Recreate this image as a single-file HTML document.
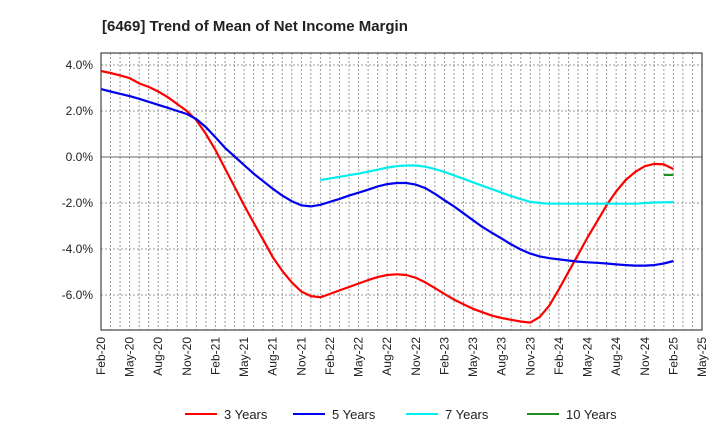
<!DOCTYPE html>
<html><head><meta charset="utf-8"><style>
body{margin:0;background:#fff;font-family:"Liberation Sans",sans-serif}
</style></head><body>
<svg id="c" width="720" height="440" xmlns="http://www.w3.org/2000/svg" style="font-family:'Liberation Sans',sans-serif">
<text x="102" y="31" font-size="15" font-weight="bold" fill="#222">[6469]  Trend of Mean of Net Income Margin</text>
<g id="grid"></g><g id="series"></g><g id="axes"></g><g id="legend"></g>
</svg>
<script>
const xTickLabels=["Feb-20","May-20","Aug-20","Nov-20","Feb-21","May-21","Aug-21","Nov-21","Feb-22","May-22","Aug-22","Nov-22","Feb-23","May-23","Aug-23","Nov-23","Feb-24","May-24","Aug-24","Nov-24","Feb-25","May-25"];
const yTicks=[4,2,0,-2,-4,-6];
const yTickLabels=["4.0%","2.0%","0.0%","-2.0%","-4.0%","-6.0%"];
const seriesNames=["3 Years","5 Years","7 Years","10 Years"];
const seriesColors=["#ff0000","#0000ee","#00eeee","#228b22"];
const start3=0;
const vals3=[3.74,3.65,3.55,3.43,3.2,3.05,2.85,2.6,2.3,2.0,1.6,1.0,0.3,-0.5,-1.3,-2.1,-2.85,-3.6,-4.35,-4.95,-5.45,-5.85,-6.05,-6.1,-5.95,-5.8,-5.65,-5.5,-5.35,-5.22,-5.13,-5.1,-5.13,-5.25,-5.45,-5.7,-5.95,-6.2,-6.4,-6.6,-6.75,-6.9,-7.0,-7.08,-7.15,-7.2,-6.95,-6.45,-5.75,-5.0,-4.25,-3.5,-2.8,-2.1,-1.5,-1.0,-0.65,-0.4,-0.3,-0.32,-0.52];
const start5=0;
const vals5=[2.95,2.85,2.75,2.65,2.53,2.4,2.27,2.14,2.0,1.87,1.65,1.3,0.85,0.4,0.02,-0.35,-0.72,-1.05,-1.38,-1.68,-1.92,-2.1,-2.15,-2.08,-1.95,-1.82,-1.68,-1.55,-1.42,-1.28,-1.18,-1.13,-1.13,-1.2,-1.35,-1.6,-1.88,-2.15,-2.45,-2.75,-3.05,-3.3,-3.55,-3.8,-4.02,-4.2,-4.32,-4.4,-4.45,-4.5,-4.55,-4.58,-4.6,-4.63,-4.67,-4.7,-4.72,-4.72,-4.7,-4.63,-4.52];
const start7=23;
const vals7=[-1.0,-0.93,-0.86,-0.79,-0.72,-0.64,-0.55,-0.46,-0.4,-0.37,-0.37,-0.42,-0.52,-0.65,-0.8,-0.95,-1.1,-1.25,-1.4,-1.55,-1.7,-1.83,-1.95,-2.0,-2.03,-2.03,-2.03,-2.03,-2.03,-2.03,-2.03,-2.03,-2.03,-2.03,-2.0,-1.98,-1.97,-1.96];
const start10=59;
const vals10=[-0.78,-0.78];

const L=101,R=702,T=53,B=330,NM=63;
const X=i=>L+i*(R-L)/NM;
const Y=v=>157-v*23;
const ns="http://www.w3.org/2000/svg";
function mk(tag,attrs,parent){const e=document.createElementNS(ns,tag);for(const k in attrs)e.setAttribute(k,attrs[k]);parent.appendChild(e);return e;}
const grid=document.getElementById('grid'),axes=document.getElementById('axes'),ser=document.getElementById('series'),leg=document.getElementById('legend');
for(let i=1;i<NM;i++){const l=mk('line',{x1:X(i),x2:X(i),y1:T,y2:B,stroke:'#999','stroke-width':1,'stroke-dasharray':'2,2'},grid);

}
yTicks.forEach((v,k)=>{const l=mk('line',{x1:L,x2:R,y1:Y(v),y2:Y(v),stroke:v===0?'#666':'#999','stroke-width':1,'stroke-dasharray':v===0?'':'2,2'},grid);


const t=mk('text',{x:L-8,y:Y(v)+4,'text-anchor':'end','font-size':12,fill:'#222'},axes);t.textContent=yTickLabels[k];

});
const fr=mk('rect',{x:L,y:T,width:R-L,height:B-T,fill:'none',stroke:'#444','stroke-width':1.2},axes);


xTickLabels.forEach((s,k)=>{const x=X(k*3);const t=mk('text',{x:0,y:0,transform:`translate(${x+4},${B+7}) rotate(-90)`,'text-anchor':'end','font-size':12,fill:'#222'},axes);t.textContent=s;

});
[[start3,vals3],[start5,vals5],[start7,vals7],[start10,vals10]].forEach(([s,v],k)=>{
const d=v.map((y,i)=>(i?'L':'M')+X(s+i).toFixed(1)+','+Y(y).toFixed(1)).join(' ');
const p=mk('path',{d:d,fill:'none',stroke:seriesColors[k],'stroke-width':2.2,'stroke-linejoin':'round'},ser);

});
const lx=[185,293,406,527];
seriesNames.forEach((n,k)=>{const g=mk('g',{},leg);


mk('line',{x1:lx[k],x2:lx[k]+32,y1:414,y2:414,stroke:seriesColors[k],'stroke-width':2},g);
const t=mk('text',{x:lx[k]+39,y:419,'font-size':13,fill:'#222'},g);t.textContent=n;});
</script>
</body></html>
